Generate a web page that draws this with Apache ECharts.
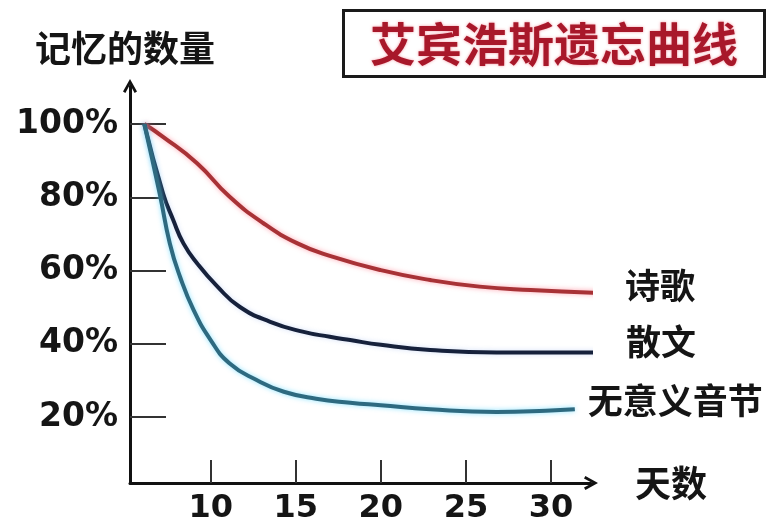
<!DOCTYPE html>
<html>
<head>
<meta charset="utf-8">
<title>艾宾浩斯遗忘曲线</title>
<script src="https://cdn.jsdelivr.net/npm/echarts@6/dist/echarts.min.js"></script>
<style>
  html, body { margin: 0; padding: 0; background: #ffffff; }
  #chart { width: 779px; height: 526px; }
</style>
</head>
<body>
<div id="chart"></div>
<script>
// Retention (%) against days, one pair of arrays per kind of material
const poemDays = [6.1, 7.2, 9.2, 11.1, 13.1, 15.1, 17.0, 20.0, 22.9, 25.8, 28.8, 32.8];
const poemValues = [100, 96.5, 89.3, 80.2, 72.9, 67.4, 64.0, 60.1, 57.4, 55.6, 54.7, 53.9];

const proseDays = [6.1, 7.2, 7.8, 8.4, 9.2, 10.4, 11.7, 13.5, 15.4, 17.0, 18.2, 20.0, 22.9, 26.8, 32.7];
const proseValues = [100, 81.1, 73.8, 67.4, 62.0, 55.6, 50.1, 46.0, 43.3, 41.9, 41.0, 39.7, 38.3, 37.6, 37.6];

const nonsenseDays = [6.1, 7.0, 7.6, 8.2, 9.0, 10.0, 11.1, 12.7, 14.3, 16.2, 18.2, 20.0, 22.9, 26.8, 29.7, 31.4];
const nonsenseValues = [100, 81.1, 67.4, 58.3, 49.2, 41.0, 34.7, 30.1, 26.9, 25.0, 23.9, 23.2, 22.1, 21.4, 21.7, 22.1];

const seriesNames = ['诗歌', '散文', '无意义音节'];
const dayTicks = [10, 15, 20, 25, 30];
const percentTicks = [20, 40, 60, 80, 100];

const zip = (xs, ys) => xs.map((x, i) => [x, ys[i]]);

const labelFont = 'DejaVu Sans, Verdana, sans-serif';
const cjkFont = '"Noto Sans CJK SC", sans-serif';
const arrowPath = 'path://M5,0 L10,9 L8.3,10 L5,4 L1.7,10 L0,9 Z';

const chart = echarts.init(document.getElementById('chart'), null, { renderer: 'canvas' });

function curve(name, data, color, glow, labelDistance, labelOffset) {
  return {
    name: name,
    type: 'line',
    data: data,
    smooth: 0.5,
    showSymbol: false,
    clip: false,
    silent: true,
    lineStyle: {
      color: color,
      width: 4,
      shadowColor: glow,
      shadowBlur: 5
    },
    endLabel: {
      show: true,
      formatter: '{a}',
      distance: labelDistance,
      offset: labelOffset,
      fontFamily: cjkFont,
      fontWeight: 'bold',
      fontSize: 35,
      color: '#151515'
    }
  };
}

chart.setOption({
  backgroundColor: '#ffffff',
  animation: false,
  title: {
    text: '艾宾浩斯遗忘曲线',
    left: 343,
    top: 10,
    padding: [9, 27, 9, 27],
    borderColor: '#1a1a1a',
    borderWidth: 3,
    textStyle: {
      fontFamily: cjkFont,
      fontWeight: 'bold',
      fontSize: 46,
      lineHeight: 49,
      color: '#a8182a',
      textShadowColor: 'rgba(235,70,90,0.55)',
      textShadowBlur: 3
    }
  },
  grid: { left: 130, right: 188, top: 86, bottom: 43 },
  xAxis: {
    type: 'value',
    min: 5.26,
    max: 32.35,
    name: '天数',
    nameLocation: 'end',
    nameGap: 44,
    nameTextStyle: {
      fontFamily: cjkFont,
      fontWeight: 'bold',
      fontSize: 36,
      color: '#151515',
      verticalAlign: 'middle'
    },
    axisLine: {
      show: true,
      symbol: ['none', arrowPath],
      symbolSize: [14, 15],
      lineStyle: { color: '#111111', width: 3 }
    },
    axisTick: {
      show: true,
      inside: true,
      length: 23,
      customValues: dayTicks,
      lineStyle: { color: '#333333', width: 2 }
    },
    axisLabel: {
      customValues: dayTicks,
      margin: 10,
      fontFamily: labelFont,
      fontWeight: 'bold',
      fontSize: 32,
      color: '#151515'
    },
    splitLine: { show: false }
  },
  yAxis: {
    type: 'value',
    min: 1.98,
    max: 110.38,
    name: '记忆的数量',
    nameLocation: 'end',
    nameGap: 20,
    nameTextStyle: {
      fontFamily: cjkFont,
      fontWeight: 'bold',
      fontSize: 36,
      color: '#151515',
      align: 'center',
      padding: [0, 10, 0, 0]
    },
    axisLine: {
      show: true,
      symbol: ['none', arrowPath],
      symbolSize: [14, 15],
      lineStyle: { color: '#111111', width: 3 }
    },
    axisTick: {
      show: true,
      inside: true,
      length: 36,
      customValues: percentTicks,
      lineStyle: { color: '#333333', width: 2 }
    },
    axisLabel: {
      customValues: percentTicks,
      formatter: '{value}%',
      margin: 12,
      fontFamily: labelFont,
      fontWeight: 'bold',
      fontSize: 33,
      color: '#151515'
    },
    splitLine: { show: false }
  },
  series: [
    curve(seriesNames[0], zip(poemDays, poemValues), '#a83236', 'rgba(255,95,115,0.55)', 32, [0, -7]),
    curve(seriesNames[1], zip(proseDays, proseValues), '#16213b', 'rgba(110,150,230,0.3)', 33, [0, -11]),
    curve(seriesNames[2], zip(nonsenseDays, nonsenseValues), '#2e6a80', 'rgba(90,215,255,0.7)', 13, [0, -9])
  ]
});
</script>
</body>
</html>
